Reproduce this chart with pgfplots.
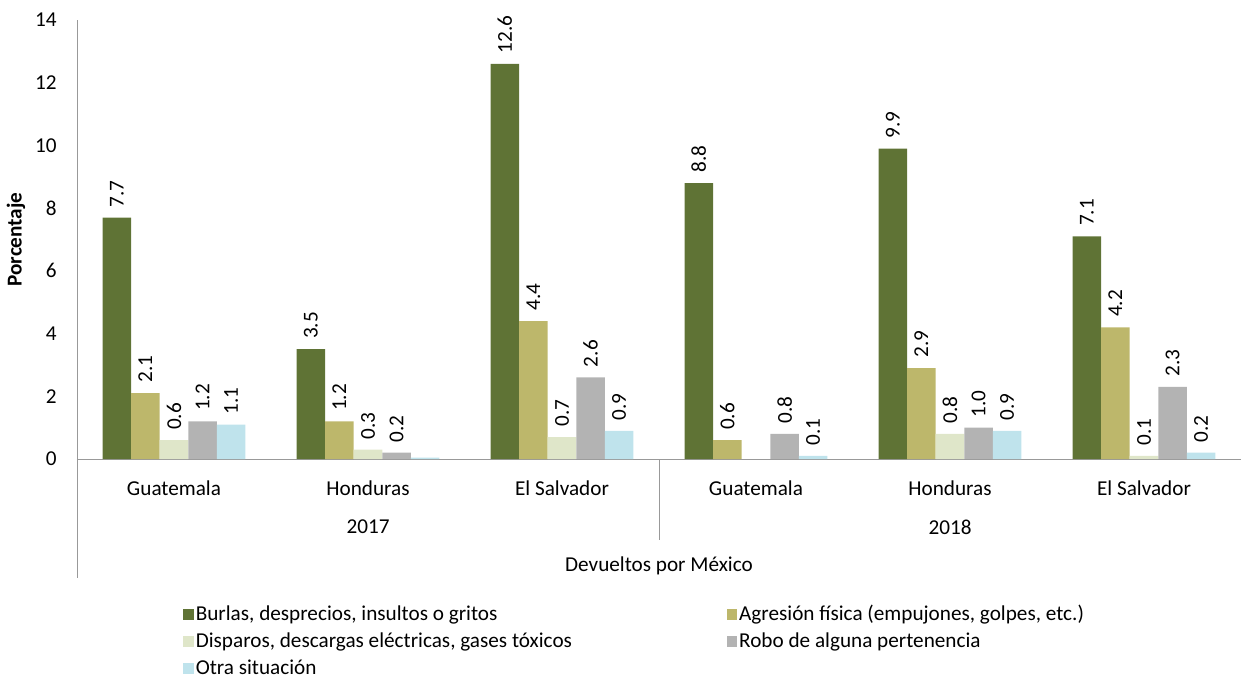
\documentclass[border=0pt]{standalone}
\usepackage{fontspec}
\setmainfont{Carlito}
\usepackage{pgfplots}
\pgfplotsset{compat=1.18}
\definecolor{cBurla}{HTML}{5F7335}
\definecolor{cAgres}{HTML}{BDB76B}
\definecolor{cDisp}{HTML}{DFE6C9}
\definecolor{cRobo}{HTML}{B3B3B3}
\definecolor{cOtra}{HTML}{BFE3EC}
\definecolor{axgray}{HTML}{999999}
\newcommand\fs{\fontsize{10.6}{12.7}\selectfont}

\begin{document}
\begin{tikzpicture}
\useasboundingbox (-38.5pt,-110pt) rectangle (582pt,229.5pt);
\begin{axis}[
  at={(0,0)}, anchor=south west,
  scale only axis, width=582pt, height=219.5pt,
  ybar=0pt, bar width=0.1474,
  xmin=-0.5, xmax=5.5, ymin=0, ymax=14,
  enlargelimits=false, clip=false,
  axis x line=bottom, axis y line=left,
  axis line style={axgray, -},
  xtick={0,...,5}, xticklabels={Guatemala,Honduras,El Salvador,Guatemala,Honduras,El Salvador},
  ytick={0,2,...,14},
  major tick length=0pt,
  /pgf/number format/assume math mode=true,
  tick label style={font=\fs, text=black},
  yticklabel style={anchor=east, inner sep=0pt, xshift=-10pt},
  xticklabel style={anchor=center, inner sep=0pt, yshift=-14.5pt},
  ylabel={\textbf{Porcentaje}},
  every axis y label/.style={at={(rel axis cs:0,0.5)}, xshift=-30.5pt, rotate=90, anchor=center, font=\fs},
  point meta=explicit symbolic,
  nodes near coords,
  every node near coord/.append style={rotate=90, anchor=west, font=\fs, text=black, inner xsep=5pt, inner ysep=0pt},
  legend columns=2,
  legend style={at={(rel axis cs:0,0)}, anchor=north west, xshift=50pt, yshift=-69.5pt,
    draw=none, fill=none, font=\fs, row sep=1.5pt,
    nodes={inner sep=1pt, text height=8pt, text depth=2pt}},
  legend cell align=left,
  legend image code/.code={\fill[#1] (0pt,-2.6pt) rectangle (5.2pt,2.6pt);},
]
\addplot[fill=cBurla, draw=none] coordinates {
  (0,7.7) [7.7] (1,3.5) [3.5] (2,12.6) [12.6] (3,8.8) [8.8] (4,9.9) [9.9] (5,7.1) [7.1]};
\addlegendentry{\makebox[264.5pt][l]{Burlas, desprecios, insultos o gritos}}
\addplot[fill=cAgres, draw=none] coordinates {
  (0,2.1) [2.1] (1,1.2) [1.2] (2,4.4) [4.4] (3,0.6) [0.6] (4,2.9) [2.9] (5,4.2) [4.2]};
\addlegendentry{Agresión física (empujones, golpes, etc.)}
\addplot[fill=cDisp, draw=none] coordinates {
  (0,0.6) [0.6] (1,0.3) [0.3] (2,0.7) [0.7] (4,0.8) [0.8] (5,0.1) [0.1]};
\addlegendentry{\makebox[264.5pt][l]{Disparos, descargas eléctricas, gases tóxicos}}
\addplot[fill=cRobo, draw=none] coordinates {
  (0,1.2) [1.2] (1,0.2) [0.2] (2,2.6) [2.6] (3,0.8) [0.8] (4,1.0) [1.0] (5,2.3) [2.3]};
\addlegendentry{Robo de alguna pertenencia}
\addplot[fill=cOtra, draw=none] coordinates {
  (0,1.1) [1.1] (1,0.04) [{}] (2,0.9) [0.9] (3,0.1) [0.1] (4,0.9) [0.9] (5,0.2) [0.2]};
\addlegendentry{Otra situación}
% multi-level category axis
\draw[axgray] (axis cs:-0.5,0) -- ++(0pt,-59.5pt);
\draw[axgray] (axis cs:2.5,0) -- ++(0pt,-40.5pt);
\node[font=\fs] at ([yshift=-34pt]axis cs:1,0) {2017};
\node[font=\fs] at ([yshift=-34pt]axis cs:4,0) {2018};
\node[font=\fs] at ([yshift=-53.5pt]axis cs:2.5,0) {Devueltos por México};
\end{axis}
\end{tikzpicture}
\end{document}
